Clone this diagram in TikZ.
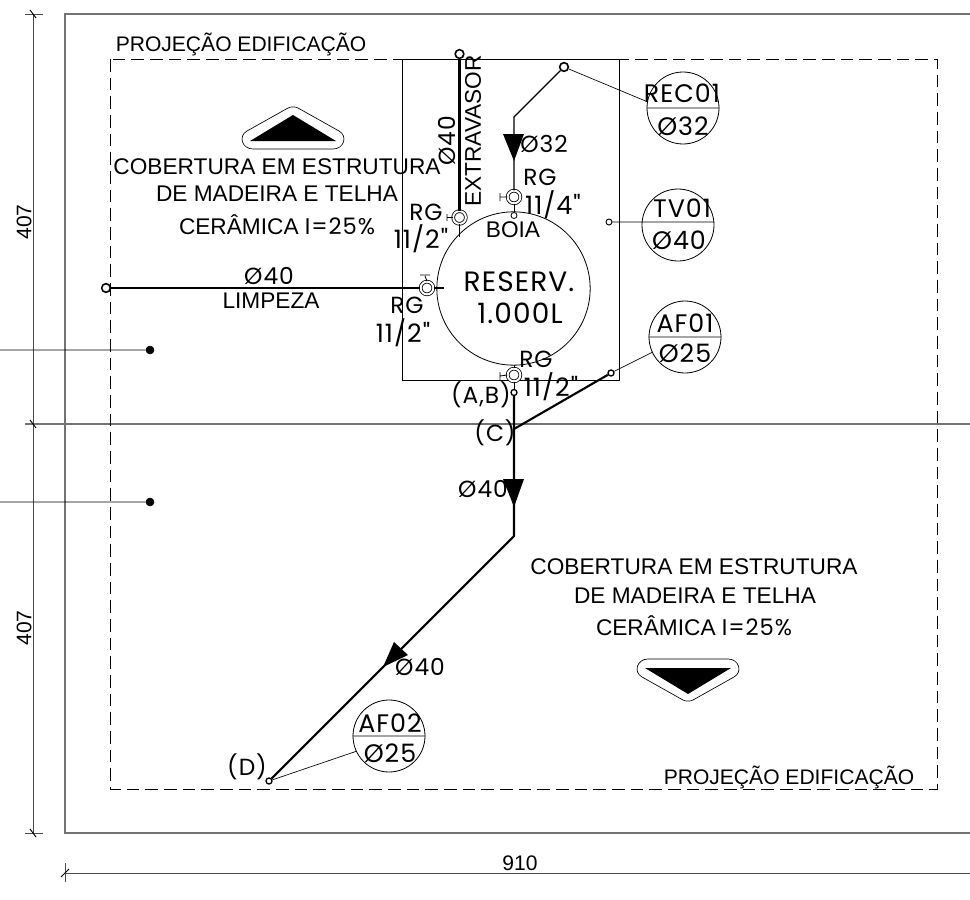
\documentclass[tikz,border=0pt]{standalone}
\usepackage{fontspec}
\setmainfont{Liberation Sans}
\newfontfamily\cadfont[LetterSpace=4]{Poppins}
\tikzset{
  arial/.style={inner sep=0pt, font=\fontsize{15.8}{18}\selectfont},
  arialbig/.style={inner sep=0pt, font=\fontsize{17}{18}\selectfont},
  cad/.style={inner sep=0pt, font=\cadfont\fontsize{17.5}{20}\selectfont},
  cadbig/.style={inner sep=0pt, font=\cadfont\fontsize{19}{20}\selectfont},
  cadtank/.style={inner sep=0pt, font=\cadfont\fontsize{21}{22}\selectfont},
  pipe/.style={line width=1.6pt},
  pipethin/.style={line width=1pt},
  leader/.style={line width=.5pt},
  grayline/.style={line width=.8pt, color=black!55},
  dimline/.style={line width=.6pt, color=black!70},
  outline/.style={line width=.6pt, dash pattern=on 9.5pt off 4.5pt},
  endpt/.style={draw, circle, line width=1.2pt, inner sep=0pt, minimum size=6.5pt},
  endsmall/.style={draw, circle, line width=1pt, inner sep=0pt, minimum size=4.5pt},
  valve/.style={draw, circle, line width=.6pt, double, double distance=1.5pt, inner sep=0pt, minimum size=9.5pt},
  bubble/.style={draw, circle, line width=.6pt, inner sep=0pt, minimum size=54pt}
}

\begin{document}
\begin{tikzpicture}[x=.75pt,y=-.75pt]
      \useasboundingbox (0,0) rectangle (970,899);

      % lot and axis lines
      \draw[grayline] (970,14) -- (65,14) -- (65,833) -- (970,833);
      \draw[grayline] (25,424) -- (970,424);
      \draw[dimline] (33,14) -- (33,833);
      \draw[dimline] (65,873) -- (970,873);
      \draw[dimline] (65,863) -- (65,882);
      \draw[dimline]
      (25,14) -- (43,14)
      (25,833) -- (43,833);
      \draw[line width=.7pt]
      (30,10) -- (36,18)
      (30,420) -- (36,428)
      (30,829) -- (36,837)
      (61,877) -- (69,869);

      % roof and tank box
      \draw[outline] (110,59) rectangle (937,789);
      \draw[leader] (402,59) rectangle (619,380);
      \node (tank) at (513.5,288.5) [draw, circle, line width=.6pt, inner sep=0pt, minimum size=115pt] {};

      % slope signs
      \draw[line width=.5pt] (253,149) -- (333,149) .. controls (344,149) and (348,136) .. (339,131) -- (298,108) .. controls (295,106.5) and (291,106.5) .. (288,108) -- (247,131) .. controls (238,136) and (242,149) .. (253,149) -- cycle;
      \fill (250,141) -- (336,141) -- (293,115) -- cycle;
      \draw[line width=.5pt] (648,659) -- (728,659) .. controls (739,659) and (743,672) .. (734,677) -- (693,700) .. controls (690,701.5) and (686,701.5) .. (683,700) -- (642,677) .. controls (633,672) and (637,659) .. (648,659) -- cycle;
      \fill (645,668) -- (731,668) -- (688,694) -- cycle;

      % end points and valves
      \node (ext) at (459.5,54) [endpt] {};
      \node (rgext) at (459.5,217.5) [valve] {};
      \node (rec) at (564,67) [endpt] {};
      \node (rgrec) at (514,197) [valve] {};
      \node (boia) at (514,215.5) [draw, circle, line width=.6pt, inner sep=0pt, minimum size=4.5pt] {};
      \node (lim) at (106,288) [endpt] {};
      \node (rglim) at (427,288) [valve] {};
      \node (rgaf) at (514,375) [valve] {};
      \node (ab) at (514,392.5) [endsmall] {};
      \node (af) at (611,373) [endsmall] {};
      \node (d) at (269,781) [endsmall] {};
      \node (tv) at (609,222) [draw, circle, line width=.7pt, inner sep=0pt, minimum size=4.5pt] {};
      \node (dot1) at (150,350) [draw, circle, fill, inner sep=0pt, minimum size=6pt] {};
      \node (dot2) at (150,502) [draw, circle, fill, inner sep=0pt, minimum size=6pt] {};
      \coordinate (extend) at (459.5,237);
      \coordinate (limend) at (443.5,288);
      \coordinate (recbend) at (514,117);
      \coordinate (c) at (514,429);
      \coordinate (bend) at (514,536);
      \coordinate (left1) at (0,350);
      \coordinate (left2) at (0,502);
      \coordinate (tanktop) at (514,365);

      % label bubbles
      \node (rec01) at (683,108) [bubble] {};
      \node (tv01) at (678,225) [bubble] {};
      \node (af01) at (685,337) [bubble] {};
      \node (af02) at (389,736) [bubble] {};

      \draw[leader]
      (rec01.west) -- (rec01.east)
      (af01.west) -- (af01.east)
      (af02.west) -- (af02.east)
      (642,222) -- (714,222)
      (rec) -- (rec01.170)
      (tv) -- (642,222)
      (af) -- (af01.205)
      (d) -- (af02.205)
      (left1) -- (dot1)
      (left2) -- (dot2);

      % pipes
      \draw[line width=2pt] (ext) -- (rgext);
      \draw[pipethin] (rgext) -- (extend);
      \draw[pipe] (lim) -- (rglim);
      \draw[pipethin] (rglim) -- (limend);
      \draw[pipethin] (rec) -- (recbend) -- (rgrec);
      \draw[leader] (rgrec) -- (boia);
      \draw[leader] (rgaf) -- (tanktop);
      \draw[leader] (rgaf) -- (ab);
      \draw[pipe] (ab) -- (c) -- (af);
      \draw[pipe] (c) -- (bend) -- (d);

      % valve handles
      \draw[line width=.6pt]
      (rgext.west) -- (447,217.5) (447,214) -- (447,221)
      (rgrec.west) -- (500,197) (500,193) -- (500,201)
      (rgaf.west) -- (500,376) (500,372) -- (500,380)
      (rglim.north) -- (425,276) (420,275) -- (430,275);

      % flow arrows
      \fill (503,134) -- (524,134) -- (514,161) -- cycle;
      \fill (503,479) -- (524,479) -- (514,507) -- cycle;
      \fill (394,642) -- (408,655) -- (383,667) -- cycle;

      % texts
      \node (proj1) at (241,44) [arial] {PROJEÇÃO EDIFICAÇÃO};
      \node (proj2) at (789,777) [arial] {PROJEÇÃO EDIFICAÇÃO};
      \node (cob1) at (277,167) [arialbig] {COBERTURA EM ESTRUTURA};
      \node (mad1) at (277,194) [arialbig] {DE MADEIRA E TELHA};
      \node (cer1) at (277,225) [arialbig] {CERÂMICA {\cadfont I=25\%}};
      \node (cob2) at (694,567) [arialbig] {COBERTURA EM ESTRUTURA};
      \node (mad2) at (695,596) [arialbig] {DE MADEIRA E TELHA};
      \node (cer2) at (694,626) [arialbig] {CERÂMICA {\cadfont I=25\%}};
      \node (dim1) at (24,222) [arial, rotate=90] {407};
      \node (dim2) at (24,628) [arial, rotate=90] {407};
      \node (dim3) at (520,863) [arial] {910};
      \node (extrav) at (473,131) [arialbig, rotate=90] {EXTRAVASOR};
      \node (limpeza) at (271,301) [arialbig] {LIMPEZA};
      \node (boiat) at (513,230) [arialbig] {BOIA};
      \node (d40a) at (447,141) [cad, rotate=90] {Ø40};
      \node (d32) at (544,144) [cad] {Ø32};
      \node (rgt1) at (540,177) [cad] {RG};
      \node (pol1) at (553,205) [cadbig] {11/4"};
      \node (rgt2) at (426,212) [cad] {RG};
      \node (pol2) at (421,239) [cadbig] {11/2"};
      \node (rgt3) at (407,305) [cad] {RG};
      \node (pol3) at (403,333) [cadbig] {11/2"};
      \node (rgt4) at (536,359) [cad] {RG};
      \node (pol4) at (551,387) [cadbig] {11/2"};
      \node (d40b) at (269,276) [cad] {Ø40};
      \node (d40c) at (483,489) [cad] {Ø40};
      \node (d40d) at (420,667) [cad] {Ø40};
      \node (res) at (519,282) [cadtank] {RESERV.};
      \node (vol) at (520,313) [cadtank] {1.000L};
      \node (abt) at (481,395) [cad] {(A,B)};
      \node (ct) at (495,433) [cad] {(C)};
      \node (dt) at (247,767) [cad] {(D)};
      \node (rec01a) at (682,93) [cadbig] {REC01};
      \node (rec01b) at (683,126) [cadbig] {Ø32};
      \node (tv01a) at (682,208) [cadbig] {TV01};
      \node (tv01b) at (679,240) [cadbig] {Ø40};
      \node (af01a) at (685,323) [cadbig] {AF01};
      \node (af01b) at (685,353) [cadbig] {Ø25};
      \node (af02a) at (390,723) [cadbig] {AF02};
      \node (af02b) at (390,753) [cadbig] {Ø25};
    \end{tikzpicture}
\end{document}
